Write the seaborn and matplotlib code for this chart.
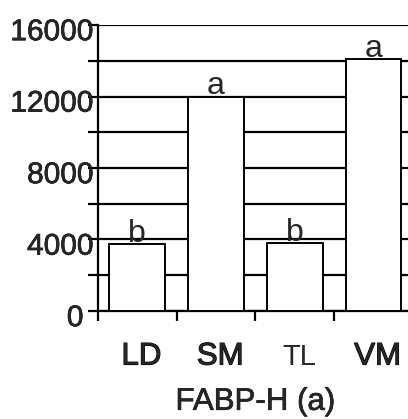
import matplotlib
matplotlib.use("Agg")
import matplotlib.pyplot as plt
import matplotlib.patheffects as pe
import matplotlib.transforms as mtrans
from matplotlib.ticker import MultipleLocator, FixedLocator
import seaborn as sns
import pandas as pd

# данные
groups = ['LD', 'SM', 'TL', 'VM']
values = [3750, 12000, 3820, 14100]
letters = ['b', 'a', 'b', 'a']
y_ticks = [0, 4000, 8000, 12000, 16000]

df = pd.DataFrame({'group': groups, 'value': values})

sns.set_style('white')
plt.rcParams['font.family'] = ['Liberation Sans', 'DejaVu Sans']

heavy = [pe.withStroke(linewidth=0.45, foreground='black')]

fig = plt.figure(figsize=(4.08, 4.19), dpi=100)
ax = fig.add_axes([0.240, 0.2578, 0.772, 0.6825])

sns.barplot(data=df, x='group', y='value', color='white', edgecolor='black',
            linewidth=1.4, width=0.71, saturation=1, ax=ax, zorder=3)

ax.set_xlim(-0.5, 3.5)
ax.set_ylim(0, 16000)

# сетка через каждые 2000, подписи через 4000
ax.yaxis.set_major_locator(FixedLocator(y_ticks))
ax.yaxis.set_minor_locator(MultipleLocator(2000))
ax.yaxis.grid(True, which='both', color='black', linewidth=1.6, zorder=0)
ax.set_axisbelow(True)
ax.tick_params(axis='y', which='both', direction='out', length=7, width=1.6,
               color='black', left=True, pad=-3.5)
ax.set_yticklabels([str(t) for t in y_ticks], fontsize=21.5)
for lbl in ax.get_yticklabels():
    dx = -7 if lbl.get_text() == '0' else 0
    shift = mtrans.ScaledTranslation(dx / 72, -3 / 72, fig.dpi_scale_trans)
    lbl.set_path_effects(heavy)
    lbl.set_transform(lbl.get_transform() + shift)

# засечки на границах категорий, подписи в центре без засечек
ax.xaxis.set_minor_locator(FixedLocator([-0.5, 0.5, 1.5, 2.5, 3.5]))
ax.tick_params(axis='x', which='minor', direction='out', length=7, width=1.6,
               color='black', bottom=True)
ax.tick_params(axis='x', which='major', length=0, pad=22)
ax.set_xticks(range(len(groups)))
ax.set_xticklabels(groups, fontsize=22.5)
for i, lbl in enumerate(ax.get_xticklabels()):
    lbl.set_transform(lbl.get_transform() + mtrans.ScaledTranslation(3 / 72, 0, fig.dpi_scale_trans))
    if groups[i] != 'TL':
        lbl.set_path_effects([pe.withStroke(linewidth=0.8, foreground='black')])
tl = ax.get_xticklabels()[2]
tl.set_fontsize(21)
tl.set_transform(tl.get_transform() + mtrans.ScaledTranslation(0, -1 / 72, fig.dpi_scale_trans))

ax.set_ylabel('')
ax.set_xlabel('FABP-H (a)', fontsize=22.5, labelpad=11)
ax.xaxis.label.set_path_effects(heavy)

for s in ['top', 'right']:
    ax.spines[s].set_visible(False)
for s in ['left', 'bottom']:
    ax.spines[s].set_color('black')
    ax.spines[s].set_linewidth(1.6)

for i, (v, l) in enumerate(zip(values, letters)):
    ax.annotate(l, xy=(i, v), xytext=(0, 1.5), textcoords='offset points',
                ha='center', va='baseline', fontsize=23, zorder=4)

fig.savefig('out.png', dpi=100)
